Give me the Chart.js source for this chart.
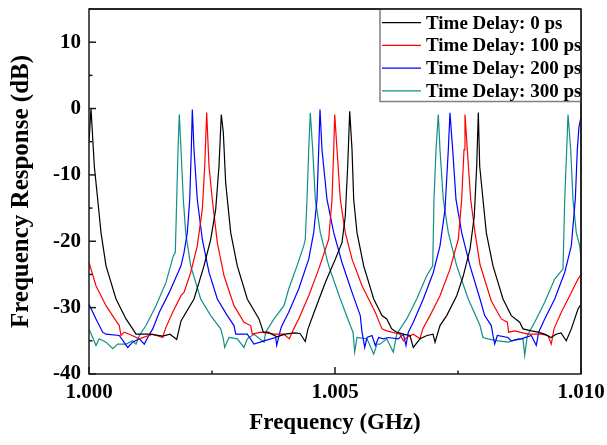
<!DOCTYPE html>
<html>
<head>
<meta charset="utf-8">
<script src="https://cdn.jsdelivr.net/npm/chart.js@4.4.1/dist/chart.umd.min.js"></script>
<style>
  body { margin: 0; background: #fff; }
  canvas { display: block; }
</style>
</head>
<body>
<canvas id="myChart" width="607" height="445"></canvas>
<script>
// values (frequency in GHz, response in dB)
const seriesNames = ['Time Delay: 0 ps', 'Time Delay: 100 ps', 'Time Delay: 200 ps', 'Time Delay: 300 ps'];
const seriesColors = ['#000000', '#ff0000', '#0000ff', '#0f8f86'];

const xTickLabels = ['1.000', '1.005', '1.010'];
const yTickLabels = ['-40', '-30', '-20', '-10', '0', '10'];

const freq0 = [1.000000, 1.000041, 1.000108, 1.000177, 1.000244, 1.000346, 1.000549, 1.000752, 1.000888, 1.000955,
  1.001240, 1.001498, 1.001646, 1.001783, 1.001870, 1.002134, 1.002337, 1.002474, 1.002575, 1.002642,
  1.002689, 1.002730, 1.002778, 1.002880, 1.003014, 1.003217, 1.003455, 1.003543, 1.003638, 1.003821,
  1.003984, 1.004187, 1.004289, 1.004396, 1.004451, 1.004600, 1.004803, 1.005006, 1.005142, 1.005209,
  1.005258, 1.005299, 1.005346, 1.005380, 1.005447, 1.005583, 1.005787, 1.005955, 1.006051, 1.006152,
  1.006254, 1.006382, 1.006524, 1.006591, 1.006728, 1.006870, 1.006992, 1.007033, 1.007134, 1.007270,
  1.007474, 1.007608, 1.007744, 1.007831, 1.007880, 1.007913, 1.007941, 1.008008, 1.008075, 1.008211,
  1.008415, 1.008583, 1.008754, 1.008821, 1.008990, 1.009126, 1.009262, 1.009390, 1.009492, 1.009593,
  1.009701, 1.009803, 1.009939, 1.010000];
const db0 = [-5.0, 0.0, -8.7, -13.7, -18.7, -23.7, -28.7, -31.7, -33.2, -34.0,
  -34.0, -34.3, -34.0, -34.8, -32.0, -28.7, -23.7, -19.7, -15.2, -8.7,
  -0.9, -3.6, -11.2, -18.7, -23.7, -28.7, -31.7, -33.7, -33.7, -34.4,
  -34.0, -33.8, -33.9, -35.1, -33.2, -30.2, -26.2, -22.7, -20.2, -16.2,
  -8.7, -0.4, -6.2, -13.7, -18.7, -23.7, -28.7, -31.2, -31.7, -33.2,
  -33.7, -34.0, -34.2, -36.0, -34.7, -34.2, -34.0, -35.2, -32.7, -31.2,
  -28.2, -25.2, -21.2, -16.2, -8.7, -0.6, -8.7, -13.7, -18.7, -23.7,
  -28.7, -31.2, -32.2, -33.2, -33.5, -33.7, -34.0, -34.5, -34.0, -33.8,
  -35.0, -33.2, -30.2, -29.5];

const freq100 = [1.000000, 1.000142, 1.000346, 1.000549, 1.000616, 1.000650, 1.000717, 1.000819, 1.001022, 1.001295,
  1.001498, 1.001551, 1.001701, 1.001870, 1.001931, 1.002067, 1.002201, 1.002303, 1.002352, 1.002392,
  1.002439, 1.002506, 1.002608, 1.002744, 1.002947, 1.003150, 1.003287, 1.003319, 1.003490, 1.003760,
  1.003963, 1.004071, 1.004161, 1.004262, 1.004466, 1.004669, 1.004872, 1.004939, 1.004974, 1.004994,
  1.005041, 1.005108, 1.005209, 1.005346, 1.005549, 1.005819, 1.005955, 1.006051, 1.006321, 1.006388,
  1.006457, 1.006591, 1.006728, 1.006783, 1.006931, 1.007134, 1.007337, 1.007506, 1.007575, 1.007622,
  1.007642, 1.007689, 1.007758, 1.007846, 1.007947, 1.008177, 1.008380, 1.008502, 1.008530, 1.008652,
  1.008923, 1.009193, 1.009329, 1.009396, 1.009451, 1.009600, 1.009770, 1.009939, 1.010000];
const db100 = [-23.2, -26.7, -29.7, -32.0, -32.7, -34.2, -33.7, -34.0, -34.7, -34.0,
  -34.5, -33.2, -30.7, -28.2, -27.7, -24.7, -20.7, -15.2, -8.7, -0.6,
  -8.7, -13.7, -20.2, -25.2, -29.7, -32.2, -32.7, -34.0, -33.7, -34.0,
  -34.0, -34.7, -33.2, -31.7, -28.2, -24.2, -19.7, -13.7, -6.2, -0.9,
  -6.2, -13.7, -18.7, -22.7, -26.7, -30.7, -33.2, -33.5, -34.0, -35.0,
  -34.5, -34.0, -34.7, -33.2, -31.2, -28.2, -24.2, -19.7, -13.7, -6.2,
  -0.9, -6.2, -13.7, -18.7, -23.5, -29.0, -31.7, -32.2, -33.7, -33.5,
  -34.0, -34.0, -34.2, -35.5, -33.2, -30.7, -28.2, -25.7, -25.0];

const freq200 = [1.000000, 1.000142, 1.000278, 1.000346, 1.000616, 1.000787, 1.000888, 1.001022, 1.001124, 1.001193,
  1.001295, 1.001429, 1.001632, 1.001870, 1.001931, 1.001998, 1.002047, 1.002079, 1.002100, 1.002134,
  1.002201, 1.002303, 1.002439, 1.002608, 1.002811, 1.002947, 1.002982, 1.003217, 1.003354, 1.003557,
  1.003795, 1.003815, 1.003896, 1.003923, 1.004059, 1.004262, 1.004466, 1.004567, 1.004634, 1.004669,
  1.004695, 1.004736, 1.004837, 1.004974, 1.005142, 1.005346, 1.005514, 1.005549, 1.005604, 1.005650,
  1.005752, 1.005819, 1.005888, 1.005982, 1.006083, 1.006287, 1.006388, 1.006443, 1.006490, 1.006591,
  1.006795, 1.006998, 1.007134, 1.007236, 1.007303, 1.007337, 1.007392, 1.007459, 1.007575, 1.007744,
  1.007947, 1.008043, 1.008177, 1.008211, 1.008246, 1.008299, 1.008516, 1.008583, 1.008787, 1.008990,
  1.009091, 1.009140, 1.009262, 1.009465, 1.009669, 1.009803, 1.009884, 1.009925, 1.009959, 1.010000];
const db200 = [-29.5, -31.7, -33.7, -34.0, -34.2, -36.0, -35.2, -34.7, -35.5, -34.5,
  -33.2, -30.7, -27.7, -23.7, -21.7, -18.7, -13.7, -6.2, -0.15, -6.2,
  -13.7, -19.7, -24.7, -28.7, -31.2, -32.7, -34.0, -34.0, -35.5, -35.0,
  -34.5, -35.7, -33.2, -32.7, -30.7, -27.2, -22.7, -18.7, -13.7, -6.2,
  -0.15, -6.2, -13.7, -18.7, -23.2, -27.7, -31.2, -33.7, -36.0, -34.5,
  -34.2, -35.7, -34.5, -34.7, -34.5, -34.7, -34.0, -35.7, -33.7, -32.2,
  -28.7, -24.7, -20.7, -15.2, -6.2, -0.65, -6.2, -13.7, -18.7, -23.7,
  -28.7, -31.2, -32.7, -34.2, -35.5, -34.2, -34.5, -35.0, -34.7, -34.2,
  -35.7, -33.7, -31.7, -28.7, -24.7, -20.7, -13.7, -6.2, -2.7, -1.3];

const freq300 = [1.000000, 1.000075, 1.000142, 1.000209, 1.000346, 1.000482, 1.000583, 1.000752, 1.000888, 1.000955,
  1.001022, 1.001159, 1.001362, 1.001565, 1.001713, 1.001754, 1.001783, 1.001809, 1.001835, 1.001870,
  1.001917, 1.001965, 1.002067, 1.002270, 1.002474, 1.002677, 1.002730, 1.002758, 1.002846, 1.003014,
  1.003150, 1.003217, 1.003354, 1.003557, 1.003591, 1.003760, 1.003963, 1.004059, 1.004228, 1.004364,
  1.004396, 1.004431, 1.004466, 1.004498, 1.004547, 1.004600, 1.004701, 1.004872, 1.005108, 1.005311,
  1.005366, 1.005400, 1.005447, 1.005650, 1.005787, 1.005854, 1.005915, 1.006051, 1.006185, 1.006254,
  1.006457, 1.006661, 1.006864, 1.006986, 1.007012, 1.007053, 1.007100, 1.007134, 1.007201, 1.007303,
  1.007474, 1.007709, 1.007947, 1.008008, 1.008110, 1.008313, 1.008516, 1.008720, 1.008821, 1.008856,
  1.008909, 1.009059, 1.009262, 1.009465, 1.009634, 1.009669, 1.009709, 1.009736, 1.009791, 1.009837,
  1.009904, 1.009974, 1.010000];
const db300 = [-33.2, -34.5, -35.7, -34.7, -35.2, -36.2, -35.5, -35.5, -35.0, -35.5,
  -34.2, -32.7, -29.7, -26.2, -22.2, -21.7, -13.7, -6.2, -0.9, -6.2,
  -13.7, -18.7, -23.7, -28.7, -31.2, -33.2, -34.7, -36.0, -34.5, -34.7,
  -36.0, -34.7, -34.0, -35.2, -33.7, -31.7, -29.7, -27.2, -23.7, -20.7,
  -19.7, -13.7, -6.2, -0.65, -6.2, -13.7, -18.7, -23.7, -28.7, -32.7,
  -33.7, -36.7, -34.5, -34.7, -37.0, -35.5, -35.5, -34.7, -36.7, -34.0,
  -31.7, -28.7, -25.2, -23.7, -13.7, -6.2, -0.9, -6.2, -13.7, -18.7,
  -23.7, -28.7, -32.7, -34.5, -34.7, -35.0, -35.2, -34.7, -34.7, -37.2,
  -34.2, -32.2, -29.2, -25.7, -24.2, -13.7, -6.2, -0.9, -6.2, -13.7,
  -18.7, -20.7, -22.5];

const seriesFreq = [freq0, freq100, freq200, freq300];
const seriesDb = [db0, db100, db200, db300];

const serif = '"Liberation Serif", "Times New Roman", serif';

// frame, inward ticks and the boxed legend
const frameAndLegend = {
  id: 'frameAndLegend',
  afterDatasetsDraw(chart) {
    const {ctx, chartArea: a, scales} = chart;
    ctx.save();
    ctx.strokeStyle = '#1a1a1a';
    ctx.lineWidth = 1.5;

    scales.y.ticks.forEach(t => {
      const py = scales.y.getPixelForValue(t.value);
      const len = Math.abs(t.value % 10) < 1e-9 ? 7 : 3.5;
      ctx.beginPath();
      ctx.moveTo(a.left, py);
      ctx.lineTo(a.left + len, py);
      ctx.stroke();
    });
    scales.x.ticks.forEach(t => {
      const px = scales.x.getPixelForValue(t.value);
      const major = Math.round((t.value - 1) * 1000 / 2.5) % 2 === 0;
      ctx.beginPath();
      ctx.moveTo(px, a.bottom);
      ctx.lineTo(px, a.bottom - (major ? 7 : 3.5));
      ctx.stroke();
    });
    ctx.strokeRect(a.left, a.top, a.right - a.left, a.bottom - a.top);

    // legend box in the upper right corner
    const w = 201, h = 92.5;
    const lx = a.right - w, ly = a.top;
    ctx.fillStyle = '#fff';
    ctx.fillRect(lx, ly, w, h);
    ctx.strokeStyle = '#808080';
    ctx.lineWidth = 1.5;
    ctx.strokeRect(lx, ly, w, h);
    ctx.font = 'bold 19px ' + serif;
    ctx.textBaseline = 'middle';
    ctx.textAlign = 'left';
    chart.data.datasets.forEach((ds, i) => {
      const ry = ly + 13.7 + i * 22.7;
      ctx.strokeStyle = ds.borderColor;
      ctx.lineWidth = 1.3;
      ctx.beginPath();
      ctx.moveTo(lx + 2, ry);
      ctx.lineTo(lx + 41, ry);
      ctx.stroke();
      ctx.fillStyle = '#000';
      ctx.fillText(ds.label, lx + 46, ry + 1);
    });
    ctx.strokeStyle = '#1a1a1a';
    ctx.lineWidth = 1.5;
    ctx.beginPath();
    ctx.moveTo(a.right, a.top);
    ctx.lineTo(a.right, a.bottom);
    ctx.moveTo(a.left, a.top);
    ctx.lineTo(a.right, a.top);
    ctx.stroke();
    ctx.restore();
  }
};

// fixed axis boxes, no extra padding from the tick labels
const fixBox = size => s => {
  if (s.isHorizontal()) s.height = size; else s.width = size;
  s.paddingTop = 0;
  s.paddingBottom = 0;
  s.paddingLeft = 0;
  s.paddingRight = 0;
};

const ctx = document.getElementById('myChart');

new Chart(ctx, {
  type: 'line',
  data: {
    datasets: seriesNames.map((name, i) => ({
      label: name,
      data: seriesFreq[i].map((f, j) => ({x: f, y: seriesDb[i][j]})),
      borderColor: seriesColors[i],
      borderWidth: 1.2,
      pointRadius: 0,
      tension: 0,
      fill: false
    }))
  },
  options: {
    responsive: false,
    animation: false,
    layout: {padding: {left: 0, right: 26, top: 9, bottom: 0}},
    plugins: {legend: {display: false}, tooltip: {enabled: false}},
    scales: {
      x: {
        type: 'linear',
        min: 1.0,
        max: 1.01,
        grid: {display: false, drawTicks: false},
        border: {display: false},
        ticks: {
          stepSize: 0.0025,
          includeBounds: false,
          autoSkip: false,
          maxRotation: 0,
          padding: 6,
          color: '#000',
          font: {family: serif, size: 21, weight: 'bold'},
          callback: v => {
            const k = Math.round((v - 1) * 1000 / 2.5);
            return k % 2 === 0 ? xTickLabels[k / 2] : '';
          }
        },
        title: {
          display: true,
          text: 'Frequency (GHz)',
          color: '#000',
          font: {family: serif, size: 23, weight: 'bold'},
          padding: {top: 0, bottom: 8}
        },
        afterFit: fixBox(71)
      },
      y: {
        min: -40,
        max: 15,
        grid: {display: false, drawTicks: false},
        border: {display: false},
        ticks: {
          stepSize: 5,
          includeBounds: false,
          autoSkip: false,
          padding: 8,
          color: '#000',
          font: {family: serif, size: 21, weight: 'bold'},
          callback: v => (v % 10 === 0 ? yTickLabels[(v + 40) / 10] : '')
        },
        title: {
          display: true,
          text: 'Frequency Response (dB)',
          color: '#000',
          font: {family: serif, size: 25, weight: 'bold'},
          padding: {top: 7, bottom: 0}
        },
        afterFit: fixBox(89)
      }
    }
  },
  plugins: [frameAndLegend]
});
</script>
</body>
</html>
